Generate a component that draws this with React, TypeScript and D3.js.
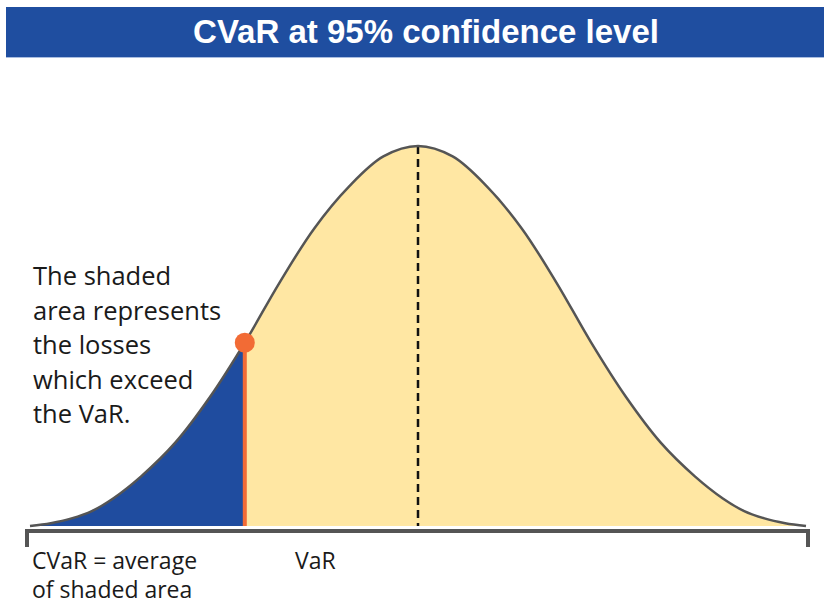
import React from 'react';
import * as d3 from 'd3';

// Distribution (standardised return vs. density)
const zValues = [-2.8, -2.65, -2.5, -2.35, -2.2, -2.0, -1.75, -1.5, -1.25, -1.0, -0.75, -0.5, -0.25, 0, 0.25, 0.5, 0.75, 1.0, 1.25, 1.5, 1.75, 2.0, 2.2, 2.35, 2.5, 2.65, 2.8];
const densities = [0.0, 0.003, 0.008, 0.016, 0.029, 0.052, 0.088, 0.136, 0.193, 0.256, 0.313, 0.357, 0.389, 0.4, 0.389, 0.357, 0.313, 0.256, 0.193, 0.136, 0.088, 0.052, 0.029, 0.016, 0.008, 0.003, 0.0];
const varZ = [-1.25];
const meanZ = [0];

const titleText = ['CVaR at 95% confidence level'];
const noteLines = ['The shaded', 'area represents', 'the losses', 'which exceed', 'the VaR.'];
const cvarLines = ['CVaR = average', 'of shaded area'];
const varLabel = ['VaR'];

const W = 824;
const H = 605;

export default function App() {
  const data = zValues.map((z, i) => ({ z, d: densities[i] }));
  const x = d3.scaleLinear().domain([-2.8, 2.8]).range([30, 806]);
  const y = d3.scaleLinear().domain([0, 0.4]).range([526, 146]);
  const curve = d3.curveCatmullRom.alpha(0.5);
  const area = d3.area<{ z: number; d: number }>().x(p => x(p.z)).y0(y(0)).y1(p => y(p.d)).curve(curve);
  const line = d3.line<{ z: number; d: number }>().x(p => x(p.z)).y(p => y(p.d)).curve(curve);

  const vz = varZ[0];
  const vi = zValues.indexOf(vz);
  const vd = densities[vi];
  const vx = x(vz);
  const vy = y(vd);
  const mx = x(meanZ[0]);
  const peak = d3.max(densities) as number;

  const [r0, r1] = x.range();
  const axisY = y(0) + 5;
  const axisPath = `M${r0 - 3},${axisY + 16} V${axisY} H${r1 + 2} V${axisY + 16}`;

  const bodyFont = "'Open Sans', 'Noto Sans', sans-serif";

  return (
    <svg width={W} height={H} style={{ position: 'absolute', left: 0, top: 0, background: '#fff' }}>
      <defs>
        <clipPath id="tailClip">
          <rect x={0} y={0} width={vx} height={H} />
        </clipPath>
      </defs>
      <rect x={6} y={7} width={W - 6} height={50} fill="#1f4ea0" />
      <line x1={6} x2={W} y1={57.5} y2={57.5} stroke="#a9bde0" strokeWidth={1} />
      <text x={426} y={43} textAnchor="middle" fill="#fff" fontFamily="'Liberation Sans', Arial, sans-serif" fontWeight="bold" fontSize={33}>
        {titleText[0]}
      </text>

      <path d={area(data) || ''} fill="#ffe7a3" />
      <path d={area(data) || ''} fill="#1f4c9f" clipPath="url(#tailClip)" />
      <line x1={mx} x2={mx} y1={y(peak)} y2={y(0)} stroke="#111" strokeWidth={2.5} strokeDasharray="8,5" />
      <path d={line(data) || ''} fill="none" stroke="#555" strokeWidth={2.5} />
      <line x1={vx} x2={vx} y1={y(0)} y2={vy} stroke="#f26b35" strokeWidth={4} />
      <circle cx={vx} cy={vy} r={10} fill="#f26b35" />

      <path d={axisPath} fill="none" stroke="#555" strokeWidth={4} />

      {noteLines.map((t, i) => (
        <text key={i} x={33} y={285 + i * 34.5} fill="#1a1a1a" fontFamily={bodyFont} fontSize={25.5}>
          {t}
        </text>
      ))}
      {cvarLines.map((t, i) => (
        <text key={i} x={32} y={569 + i * 29} fill="#1a1a1a" fontFamily={bodyFont} fontSize={23}>
          {t}
        </text>
      ))}
      <text x={295} y={569} fill="#1a1a1a" fontFamily={bodyFont} fontSize={23}>
        {varLabel[0]}
      </text>
    </svg>
  );
}
